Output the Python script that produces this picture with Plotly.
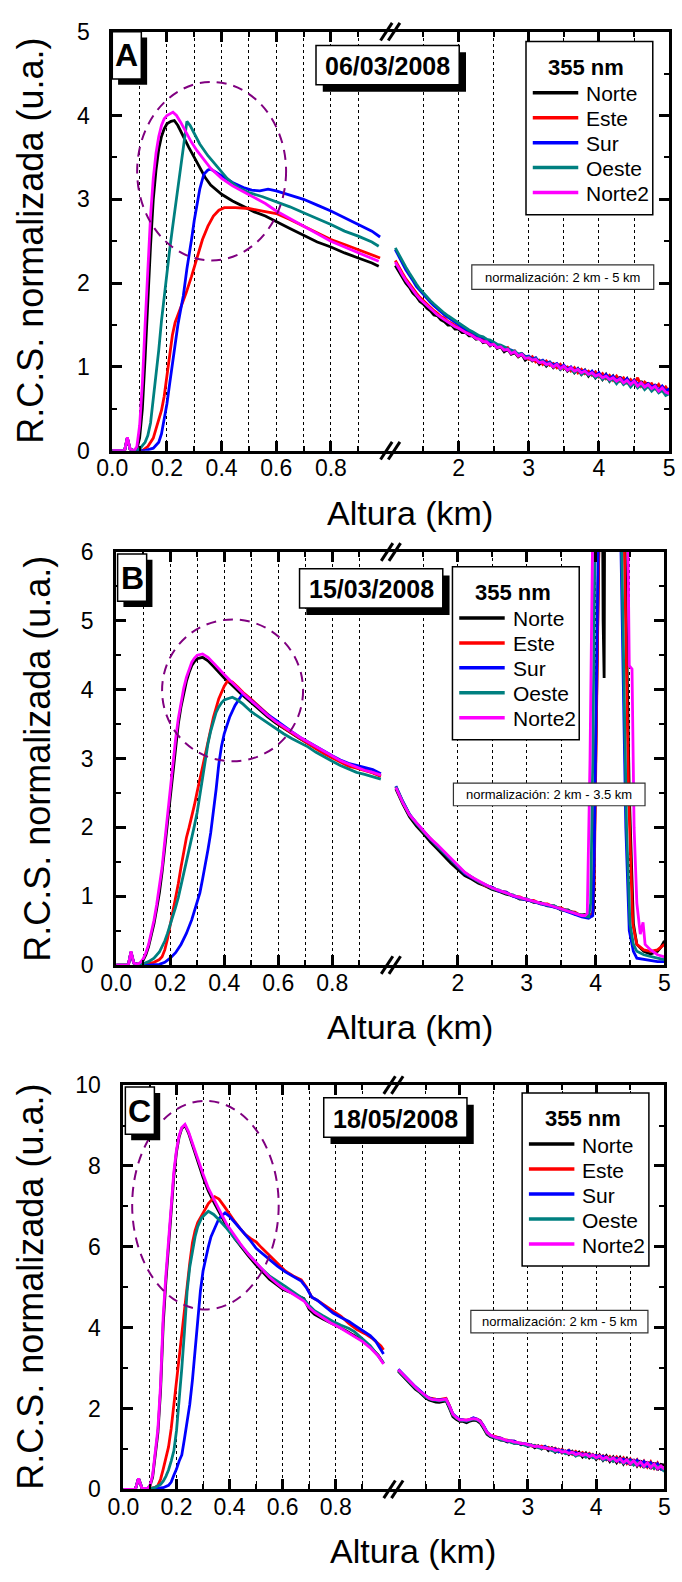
import plotly.graph_objects as go

W, H = 682, 1582
FONT = "Liberation Sans, Arial, Helvetica, sans-serif"

SERIES = ["Norte", "Este", "Sur", "Oeste", "Norte2"]
COLORS = ["#000000", "#ff0000", "#0000ff", "#008080", "#ff00ff"]

XL_TICKS = [0.0, 0.2, 0.4, 0.6, 0.8]
XL_TICKTEXT = ["0.0", "0.2", "0.4", "0.6", "0.8"]
XL_MINOR = [0.1, 0.3, 0.5, 0.7, 0.9]
XR_TICKS = [2, 3, 4, 5]
XR_TICKTEXT = ["2", "3", "4", "5"]
XR_MINOR = [1.5, 2.5, 3.5, 4.5]

# ------------------------------------------------------------------ Panel A (06/03/2008)
a_norte_x = [0, 0.045, 0.055, 0.065, 0.08, 0.09, 0.10, 0.11, 0.12, 0.13, 0.14, 0.15, 0.16, 0.17, 0.18, 0.19, 0.20, 0.215, 0.227, 0.24, 0.26, 0.28, 0.30, 0.32, 0.34, 0.36, 0.38, 0.40, 0.44, 0.48, 0.52, 0.56, 0.60, 0.65, 0.70, 0.75, 0.80, 0.85, 0.90, 0.95, 0.975]
a_norte_y = [0, 0, 0.15, 0.02, 0, 0.02, 0.15, 0.5, 1.1, 1.8, 2.45, 3.0, 3.35, 3.6, 3.75, 3.84, 3.9, 3.93, 3.94, 3.88, 3.74, 3.62, 3.5, 3.38, 3.26, 3.17, 3.11, 3.06, 2.98, 2.91, 2.85, 2.80, 2.73, 2.65, 2.57, 2.49, 2.43, 2.36, 2.30, 2.24, 2.20]
a_este_x = [0, 0.045, 0.055, 0.065, 0.08, 0.11, 0.13, 0.15, 0.16, 0.17, 0.18, 0.19, 0.20, 0.21, 0.22, 0.23, 0.25, 0.27, 0.29, 0.31, 0.33, 0.35, 0.37, 0.39, 0.41, 0.45, 0.50, 0.55, 0.60, 0.65, 0.70, 0.75, 0.80, 0.85, 0.90, 0.95, 0.98]
a_este_y = [0, 0, 0.15, 0.02, 0, 0, 0.05, 0.15, 0.26, 0.38, 0.48, 0.65, 0.9, 1.15, 1.38, 1.53, 1.7, 1.88, 2.08, 2.3, 2.52, 2.68, 2.8, 2.87, 2.9, 2.9, 2.89, 2.86, 2.83, 2.76, 2.68, 2.6, 2.52, 2.46, 2.4, 2.34, 2.3]
a_sur_x = [0, 0.045, 0.055, 0.065, 0.08, 0.12, 0.15, 0.17, 0.18, 0.19, 0.20, 0.21, 0.22, 0.23, 0.24, 0.25, 0.26, 0.273, 0.28, 0.29, 0.30, 0.31, 0.32, 0.335, 0.35, 0.36, 0.38, 0.40, 0.44, 0.48, 0.51, 0.54, 0.57, 0.60, 0.65, 0.70, 0.75, 0.80, 0.85, 0.90, 0.95, 0.98]
a_sur_y = [0, 0, 0.15, 0.02, 0, 0, 0.03, 0.1, 0.2, 0.36, 0.56, 0.8, 1.05, 1.3, 1.5, 1.68, 1.85, 2.17, 2.3, 2.52, 2.75, 2.95, 3.12, 3.3, 3.35, 3.36, 3.32, 3.27, 3.2, 3.14, 3.11, 3.1, 3.12, 3.1, 3.05, 3.0, 2.93, 2.86, 2.78, 2.70, 2.62, 2.55]
a_oeste_x = [0, 0.045, 0.055, 0.065, 0.08, 0.10, 0.12, 0.13, 0.14, 0.15, 0.16, 0.17, 0.18, 0.19, 0.20, 0.21, 0.22, 0.23, 0.24, 0.25, 0.26, 0.267, 0.273, 0.285, 0.30, 0.32, 0.35, 0.38, 0.42, 0.46, 0.50, 0.55, 0.60, 0.65, 0.70, 0.75, 0.80, 0.85, 0.90, 0.95, 0.975]
a_oeste_y = [0, 0, 0.15, 0.02, 0, 0.02, 0.1, 0.18, 0.33, 0.6, 0.88, 1.2, 1.55, 1.85, 2.1, 2.4, 2.65, 2.9, 3.13, 3.38, 3.62, 3.82, 3.93, 3.88, 3.78, 3.66, 3.52, 3.40, 3.25, 3.14, 3.08, 3.03, 2.97, 2.91, 2.84, 2.77, 2.70, 2.62, 2.56, 2.49, 2.44]
a_norte2_x = [0, 0.045, 0.055, 0.065, 0.08, 0.09, 0.10, 0.11, 0.12, 0.13, 0.14, 0.15, 0.16, 0.17, 0.18, 0.19, 0.20, 0.222, 0.235, 0.25, 0.27, 0.29, 0.31, 0.33, 0.36, 0.40, 0.44, 0.48, 0.52, 0.56, 0.60, 0.65, 0.70, 0.75, 0.80, 0.85, 0.90, 0.95, 0.975]
a_norte2_y = [0, 0, 0.16, 0.02, 0, 0.05, 0.3, 0.8, 1.5, 2.2, 2.8, 3.25, 3.55, 3.75, 3.88, 3.96, 4.0, 4.04, 4.0, 3.92, 3.8, 3.68, 3.58, 3.49, 3.37, 3.25, 3.16, 3.09, 3.02, 2.95, 2.86, 2.77, 2.68, 2.59, 2.50, 2.43, 2.36, 2.29, 2.26]

# upper segment (1 - 5 km), sampled every 0.05 km
a_xr = [1.10, 1.15, 1.20, 1.25, 1.30, 1.35, 1.40, 1.45, 1.50, 1.55, 1.60, 1.65, 1.70, 1.75, 1.80, 1.85, 1.90, 1.95,
        2.00, 2.05, 2.10, 2.15, 2.20, 2.25, 2.30, 2.35, 2.40, 2.45, 2.50, 2.55, 2.60, 2.65, 2.70, 2.75, 2.80, 2.85, 2.90, 2.95,
        3.00, 3.05, 3.10, 3.15, 3.20, 3.25, 3.30, 3.35, 3.40, 3.45, 3.50, 3.55, 3.60, 3.65, 3.70, 3.75, 3.80, 3.85, 3.90, 3.95,
        4.00, 4.05, 4.10, 4.15, 4.20, 4.25, 4.30, 4.35, 4.40, 4.45, 4.50, 4.55, 4.60, 4.65, 4.70, 4.75, 4.80, 4.85, 4.90, 4.95,
        5.00]
a_norte_r = [2.21, 2.14, 2.08, 2.00, 1.95, 1.88, 1.84, 1.78, 1.75, 1.70, 1.67, 1.62, 1.61, 1.56, 1.54, 1.50, 1.50, 1.45,
             1.45, 1.41, 1.41, 1.37, 1.37, 1.33, 1.34, 1.29, 1.30, 1.25, 1.28, 1.22, 1.24, 1.18, 1.21, 1.15, 1.17, 1.12, 1.15, 1.08,
             1.11, 1.07, 1.10, 1.03, 1.07, 1.01, 1.05, 0.99, 1.03, 0.97, 1.01, 0.95, 0.99, 0.93, 0.98, 0.91, 0.96, 0.89, 0.94, 0.87,
             0.92, 0.85, 0.91, 0.83, 0.89, 0.81, 0.88, 0.80, 0.86, 0.78, 0.84, 0.76, 0.83, 0.74, 0.81, 0.73, 0.79, 0.70, 0.77, 0.68,
             0.72]
a_este_r = [2.27, 2.19, 2.12, 2.05, 1.99, 1.93, 1.88, 1.83, 1.79, 1.74, 1.71, 1.67, 1.64, 1.60, 1.58, 1.54, 1.52, 1.49,
            1.47, 1.46, 1.42, 1.40, 1.39, 1.35, 1.35, 1.32, 1.30, 1.27, 1.29, 1.24, 1.25, 1.21, 1.23, 1.17, 1.19, 1.13, 1.16, 1.12,
            1.09, 1.12, 1.06, 1.08, 1.03, 1.07, 1.02, 1.04, 0.99, 1.03, 0.98, 1.00, 0.95, 0.99, 0.93, 0.97, 0.92, 0.95, 0.90, 0.94,
            0.88, 0.92, 0.86, 0.90, 0.84, 0.89, 0.83, 0.87, 0.81, 0.85, 0.80, 0.87, 0.77, 0.82, 0.78, 0.80, 0.74, 0.79, 0.72, 0.76,
            0.70]
a_sur_r = [2.40, 2.31, 2.24, 2.16, 2.10, 2.03, 1.96, 1.91, 1.86, 1.81, 1.77, 1.73, 1.69, 1.66, 1.62, 1.59, 1.56, 1.53,
           1.50, 1.48, 1.45, 1.43, 1.41, 1.38, 1.36, 1.35, 1.32, 1.30, 1.29, 1.26, 1.25, 1.23, 1.21, 1.20, 1.18, 1.15, 1.16, 1.12,
           1.13, 1.09, 1.11, 1.06, 1.08, 1.04, 1.06, 1.02, 1.04, 0.99, 1.02, 0.97, 1.00, 0.95, 0.98, 0.94, 0.96, 0.91, 0.95, 0.89,
           0.93, 0.87, 0.91, 0.86, 0.89, 0.84, 0.87, 0.82, 0.86, 0.80, 0.84, 0.79, 0.81, 0.77, 0.80, 0.76, 0.78, 0.72, 0.77, 0.71,
           0.74]
a_oeste_r = [2.42, 2.34, 2.26, 2.19, 2.12, 2.05, 1.99, 1.93, 1.88, 1.83, 1.79, 1.75, 1.71, 1.67, 1.64, 1.61, 1.58, 1.55,
             1.52, 1.50, 1.47, 1.44, 1.42, 1.40, 1.37, 1.36, 1.33, 1.32, 1.29, 1.27, 1.26, 1.24, 1.22, 1.19, 1.19, 1.15, 1.16, 1.11,
             1.12, 1.08, 1.10, 1.05, 1.07, 1.02, 1.05, 1.00, 1.03, 0.97, 1.00, 0.96, 0.98, 0.93, 0.97, 0.91, 0.94, 0.90, 0.92, 0.87,
             0.90, 0.85, 0.88, 0.83, 0.86, 0.80, 0.85, 0.79, 0.82, 0.76, 0.81, 0.75, 0.79, 0.73, 0.77, 0.71, 0.75, 0.69, 0.72, 0.66,
             0.68]
a_norte2_r = [2.25, 2.17, 2.10, 2.03, 1.97, 1.91, 1.86, 1.81, 1.77, 1.73, 1.69, 1.65, 1.62, 1.59, 1.56, 1.53, 1.50, 1.48,
              1.46, 1.43, 1.41, 1.39, 1.37, 1.34, 1.33, 1.30, 1.30, 1.26, 1.27, 1.23, 1.24, 1.20, 1.21, 1.16, 1.18, 1.13, 1.15, 1.10,
              1.11, 1.08, 1.09, 1.05, 1.06, 1.03, 1.04, 1.00, 1.03, 0.98, 1.01, 0.96, 0.99, 0.95, 0.97, 0.93, 0.95, 0.91, 0.93, 0.89,
              0.91, 0.87, 0.89, 0.85, 0.87, 0.83, 0.86, 0.81, 0.84, 0.79, 0.83, 0.77, 0.81, 0.76, 0.79, 0.74, 0.77, 0.71, 0.75, 0.70,
              0.68]

# ------------------------------------------------------------------ Panel B (15/03/2008)
b_norte_x = [0, 0.045, 0.055, 0.065, 0.08, 0.09, 0.10, 0.11, 0.12, 0.13, 0.14, 0.15, 0.16, 0.17, 0.18, 0.19, 0.20, 0.21, 0.22, 0.23, 0.24, 0.25, 0.26, 0.27, 0.28, 0.29, 0.30, 0.32, 0.34, 0.36, 0.38, 0.40, 0.42, 0.44, 0.46, 0.48, 0.50, 0.53, 0.56, 0.59, 0.62, 0.65, 0.68, 0.71, 0.74, 0.77, 0.80, 0.83, 0.86, 0.89, 0.92, 0.95, 0.98]
b_norte_y = [0, 0, 0.19, 0.03, 0.01, 0.03, 0.07, 0.15, 0.27, 0.42, 0.6, 0.82, 1.05, 1.35, 1.72, 2.1, 2.45, 2.85, 3.2, 3.5, 3.75, 3.95, 4.12, 4.25, 4.35, 4.41, 4.45, 4.47, 4.42, 4.34, 4.25, 4.17, 4.10, 4.02, 3.95, 3.88, 3.81, 3.71, 3.61, 3.52, 3.44, 3.36, 3.29, 3.22, 3.15, 3.08, 3.02, 2.96, 2.91, 2.87, 2.84, 2.80, 2.75]
b_este_x = [0, 0.045, 0.055, 0.065, 0.08, 0.10, 0.12, 0.14, 0.16, 0.17, 0.18, 0.19, 0.20, 0.21, 0.22, 0.23, 0.24, 0.25, 0.26, 0.27, 0.28, 0.29, 0.30, 0.32, 0.34, 0.36, 0.38, 0.40, 0.413, 0.43, 0.45, 0.47, 0.50, 0.53, 0.56, 0.59, 0.62, 0.65, 0.68, 0.71, 0.74, 0.77, 0.80, 0.83, 0.86, 0.89, 0.92, 0.95, 0.98]
b_este_y = [0, 0, 0.19, 0.03, 0.01, 0.01, 0.02, 0.04, 0.08, 0.12, 0.22, 0.38, 0.58, 0.78, 0.95, 1.18, 1.42, 1.65, 1.85, 2.0, 2.15, 2.33, 2.52, 2.88, 3.26, 3.6, 3.87, 4.05, 4.13, 4.11, 4.04, 3.96, 3.86, 3.75, 3.64, 3.54, 3.45, 3.37, 3.29, 3.22, 3.14, 3.07, 3.01, 2.94, 2.89, 2.86, 2.83, 2.79, 2.74]
b_sur_x = [0, 0.045, 0.055, 0.065, 0.08, 0.12, 0.16, 0.18, 0.20, 0.22, 0.24, 0.26, 0.28, 0.30, 0.31, 0.32, 0.33, 0.34, 0.35, 0.36, 0.37, 0.38, 0.39, 0.40, 0.42, 0.44, 0.46, 0.468, 0.48, 0.50, 0.53, 0.56, 0.59, 0.62, 0.65, 0.68, 0.71, 0.74, 0.77, 0.80, 0.83, 0.86, 0.89, 0.92, 0.95, 0.98]
b_sur_y = [0, 0, 0.19, 0.03, 0.01, 0.0, 0.01, 0.04, 0.1, 0.18, 0.3, 0.46, 0.66, 0.9, 1.05, 1.25, 1.45, 1.68, 1.92, 2.2, 2.55, 2.92, 3.18, 3.36, 3.6, 3.77, 3.9, 3.94, 3.91, 3.84, 3.74, 3.64, 3.56, 3.47, 3.39, 3.31, 3.24, 3.17, 3.1, 3.04, 2.98, 2.93, 2.9, 2.87, 2.84, 2.78]
b_oeste_x = [0, 0.045, 0.055, 0.065, 0.08, 0.10, 0.12, 0.14, 0.16, 0.18, 0.19, 0.20, 0.21, 0.22, 0.23, 0.24, 0.25, 0.26, 0.27, 0.28, 0.29, 0.30, 0.31, 0.32, 0.33, 0.34, 0.35, 0.36, 0.37, 0.38, 0.39, 0.40, 0.42, 0.43, 0.45, 0.47, 0.50, 0.53, 0.56, 0.59, 0.62, 0.65, 0.68, 0.71, 0.74, 0.77, 0.80, 0.83, 0.86, 0.89, 0.92, 0.95, 0.98]
b_oeste_y = [0, 0, 0.19, 0.03, 0.01, 0.02, 0.05, 0.1, 0.19, 0.35, 0.46, 0.58, 0.7, 0.84, 0.98, 1.15, 1.33, 1.5, 1.67, 1.85, 2.03, 2.22, 2.48, 2.75, 3.0, 3.22, 3.4, 3.55, 3.67, 3.75, 3.81, 3.85, 3.88, 3.89, 3.85, 3.79, 3.68, 3.60, 3.51, 3.43, 3.36, 3.29, 3.23, 3.17, 3.09, 3.02, 2.96, 2.90, 2.85, 2.80, 2.77, 2.74, 2.70]
b_norte2_x = b_norte_x
b_norte2_y = [0, 0, 0.2, 0.03, 0.01, 0.04, 0.09, 0.18, 0.3, 0.46, 0.65, 0.88, 1.12, 1.42, 1.8, 2.18, 2.55, 2.93, 3.28, 3.58, 3.82, 4.02, 4.18, 4.3, 4.4, 4.46, 4.5, 4.52, 4.47, 4.39, 4.3, 4.22, 4.14, 4.06, 3.98, 3.91, 3.84, 3.73, 3.63, 3.54, 3.46, 3.38, 3.31, 3.24, 3.17, 3.10, 3.04, 2.97, 2.92, 2.87, 2.83, 2.80, 2.76]

b_xr = [1.1, 1.2, 1.3, 1.4, 1.5, 1.6, 1.7, 1.8, 1.9, 2.0, 2.1, 2.2, 2.3, 2.4, 2.5, 2.6, 2.7, 2.8, 2.9, 3.0,
        3.1, 3.2, 3.3, 3.4, 3.5, 3.6, 3.7, 3.8]
b_norte_r = [2.56, 2.34, 2.15, 2.02, 1.91, 1.79, 1.69, 1.58, 1.48, 1.39, 1.30, 1.25, 1.19, 1.15, 1.10, 1.07, 1.03, 1.01, 0.96, 0.96, 0.91, 0.91, 0.86, 0.86, 0.80, 0.80, 0.74, 0.73]
b_este_r = [2.59, 2.37, 2.18, 2.06, 1.94, 1.84, 1.73, 1.64, 1.53, 1.43, 1.34, 1.28, 1.22, 1.15, 1.13, 1.07, 1.06, 1.00, 0.99, 0.94, 0.94, 0.89, 0.89, 0.84, 0.83, 0.78, 0.77, 0.71]
b_sur_r = [2.60, 2.38, 2.19, 2.06, 1.95, 1.83, 1.73, 1.63, 1.53, 1.42, 1.33, 1.27, 1.22, 1.16, 1.13, 1.07, 1.06, 1.00, 0.97, 0.95, 0.92, 0.89, 0.87, 0.84, 0.81, 0.77, 0.74, 0.70]
b_oeste_r = [2.59, 2.37, 2.18, 2.05, 1.94, 1.83, 1.73, 1.63, 1.53, 1.43, 1.34, 1.28, 1.21, 1.17, 1.11, 1.09, 1.04, 1.02, 0.97, 0.96, 0.92, 0.90, 0.87, 0.86, 0.81, 0.79, 0.75, 0.72]
b_norte2_r = [2.58, 2.36, 2.18, 2.07, 1.95, 1.84, 1.75, 1.65, 1.55, 1.44, 1.35, 1.28, 1.22, 1.17, 1.12, 1.09, 1.05, 1.01, 0.98, 0.95, 0.93, 0.90, 0.88, 0.85, 0.82, 0.79, 0.76, 0.72]
# cloud layer around 4 km (values above 6 go off the top of the frame)
b_norte_tx = [3.9, 3.95, 3.97, 4.01, 4.05, 4.07, 4.09, 4.11, 4.125, 4.14, 4.2, 4.3, 4.40, 4.43, 4.49, 4.55, 4.6, 4.7, 4.8, 4.9, 4.95, 5.0]
b_norte_ty = [0.74, 0.72, 0.8, 3.5, 6.0, 9.0, 9.0, 5.0, 4.17, 9.0, 9.0, 9.0, 9.0, 6.0, 2.5, 0.6, 0.3, 0.2, 0.16, 0.2, 0.26, 0.35]
b_este_tx = [3.9, 3.96, 3.98, 4.02, 4.05, 4.07, 4.38, 4.42, 4.48, 4.54, 4.6, 4.7, 4.8, 4.9, 5.0]
b_este_ty = [0.71, 0.75, 1.2, 4.0, 6.2, 9.0, 9.0, 6.0, 2.5, 0.6, 0.3, 0.22, 0.2, 0.22, 0.3]
b_sur_tx = [3.9, 3.96, 3.98, 4.01, 4.04, 4.06, 4.33, 4.37, 4.44, 4.49, 4.55, 4.6, 4.7, 4.8, 4.9, 5.0]
b_sur_ty = [0.68, 0.72, 1.5, 4.0, 6.2, 9.0, 9.0, 6.0, 2.0, 0.5, 0.2, 0.1, 0.08, 0.06, 0.05, 0.05]
b_oeste_tx = [3.9, 3.93, 3.96, 4.0, 4.02, 4.34, 4.38, 4.45, 4.5, 4.55, 4.6, 4.7, 4.8, 4.9, 5.0]
b_oeste_ty = [0.70, 0.9, 3.0, 6.0, 9.0, 9.0, 6.0, 2.0, 0.6, 0.3, 0.2, 0.15, 0.12, 0.1, 0.08]
b_norte2_tx = [3.85, 3.88, 3.92, 3.97, 3.99, 4.44, 4.47, 4.49, 4.53, 4.56, 4.6, 4.65, 4.69, 4.72, 4.8, 4.9, 5.0]
b_norte2_ty = [0.72, 0.75, 3.0, 6.0, 9.0, 9.0, 6.0, 4.35, 4.3, 2.0, 0.9, 0.45, 0.62, 0.3, 0.22, 0.15, 0.12]

# ------------------------------------------------------------------ Panel C (18/05/2008)
c_norte_x = [0, 0.045, 0.057, 0.07, 0.09, 0.10, 0.11, 0.12, 0.13, 0.14, 0.15, 0.16, 0.17, 0.18, 0.19, 0.20, 0.21, 0.22, 0.232, 0.245, 0.26, 0.28, 0.30, 0.32, 0.344, 0.37, 0.39, 0.42, 0.44, 0.47, 0.50, 0.53, 0.55, 0.58, 0.60, 0.63, 0.66, 0.68, 0.70, 0.72, 0.75, 0.78, 0.81, 0.84, 0.87, 0.90, 0.93, 0.96, 0.98]
c_norte_y = [0, 0, 0.27, 0.03, 0.02, 0.08, 0.3, 0.8, 1.4, 2.45, 4.1, 5.15, 6.0, 6.9, 7.75, 8.35, 8.72, 8.93, 9.0, 8.82, 8.5, 8.12, 7.72, 7.38, 7.06, 6.75, 6.5, 6.2, 6.02, 5.78, 5.55, 5.33, 5.2, 5.05, 4.95, 4.87, 4.78, 4.72, 4.45, 4.33, 4.22, 4.12, 4.03, 3.92, 3.8, 3.68, 3.52, 3.32, 3.12]
c_este_x = [0, 0.045, 0.057, 0.07, 0.10, 0.12, 0.13, 0.14, 0.15, 0.16, 0.17, 0.18, 0.19, 0.20, 0.21, 0.22, 0.23, 0.24, 0.25, 0.26, 0.27, 0.28, 0.30, 0.32, 0.344, 0.36, 0.38, 0.40, 0.42, 0.44, 0.46, 0.48, 0.50, 0.52, 0.55, 0.58, 0.61, 0.64, 0.67, 0.69, 0.71, 0.73, 0.76, 0.79, 0.82, 0.85, 0.88, 0.91, 0.94, 0.97, 0.98]
c_este_y = [0, 0, 0.27, 0.03, 0.02, 0.05, 0.1, 0.25, 0.5, 0.75, 1.05, 1.5, 2.1, 2.6, 3.2, 3.9, 4.45, 4.95, 5.6, 6.1, 6.4, 6.6, 6.85, 7.07, 7.24, 7.18, 7.0, 6.8, 6.62, 6.45, 6.3, 6.2, 6.12, 5.98, 5.78, 5.58, 5.4, 5.28, 5.18, 5.0, 4.75, 4.68, 4.55, 4.42, 4.28, 4.1, 3.95, 3.85, 3.72, 3.55, 3.45]
c_sur_x = [0, 0.045, 0.057, 0.07, 0.10, 0.13, 0.15, 0.17, 0.18, 0.19, 0.20, 0.21, 0.22, 0.23, 0.24, 0.25, 0.26, 0.27, 0.28, 0.29, 0.30, 0.31, 0.32, 0.33, 0.345, 0.36, 0.383, 0.40, 0.42, 0.44, 0.46, 0.48, 0.50, 0.52, 0.55, 0.58, 0.61, 0.64, 0.67, 0.69, 0.71, 0.73, 0.76, 0.79, 0.82, 0.85, 0.87, 0.90, 0.93, 0.95, 0.98]
c_sur_y = [0, 0, 0.27, 0.03, 0.01, 0.02, 0.04, 0.1, 0.18, 0.35, 0.5, 0.7, 0.85, 1.25, 1.65, 2.1, 2.7, 3.4, 4.2, 4.9, 5.4, 5.75, 6.0, 6.25, 6.5, 6.7, 6.84, 6.75, 6.6, 6.45, 6.3, 6.14, 5.96, 5.85, 5.7, 5.52, 5.38, 5.27, 5.15, 4.98, 4.75, 4.68, 4.52, 4.36, 4.25, 4.15, 4.06, 3.92, 3.8, 3.67, 3.35]
c_oeste_x = [0, 0.045, 0.057, 0.07, 0.10, 0.12, 0.14, 0.15, 0.16, 0.17, 0.18, 0.19, 0.20, 0.21, 0.22, 0.23, 0.24, 0.25, 0.26, 0.27, 0.28, 0.295, 0.32, 0.34, 0.36, 0.39, 0.42, 0.455, 0.49, 0.52, 0.55, 0.58, 0.61, 0.63, 0.66, 0.68, 0.70, 0.72, 0.75, 0.79, 0.82, 0.85, 0.87, 0.90, 0.93, 0.96, 0.98]
c_oeste_y = [0, 0, 0.27, 0.03, 0.02, 0.05, 0.12, 0.2, 0.32, 0.48, 0.7, 0.95, 1.45, 2.15, 3.0, 3.9, 4.9, 5.5, 5.9, 6.25, 6.5, 6.72, 6.88, 6.8, 6.67, 6.45, 6.2, 5.94, 5.68, 5.46, 5.28, 5.14, 5.02, 4.93, 4.8, 4.7, 4.55, 4.42, 4.3, 4.15, 4.06, 3.98, 3.9, 3.72, 3.55, 3.3, 3.12]
c_norte2_x = c_norte_x
c_norte2_y = [0, 0, 0.27, 0.03, 0.02, 0.1, 0.35, 0.9, 1.5, 2.6, 4.3, 5.3, 6.1, 7.0, 7.85, 8.4, 8.75, 8.95, 9.03, 8.85, 8.55, 8.2, 7.8, 7.45, 7.12, 6.8, 6.55, 6.25, 6.08, 5.82, 5.6, 5.38, 5.25, 5.08, 4.98, 4.87, 4.75, 4.66, 4.5, 4.38, 4.25, 4.12, 4.02, 3.9, 3.78, 3.66, 3.5, 3.3, 3.1]

c_xr = a_xr
c_norte_r = [2.92, 2.83, 2.75, 2.65, 2.57, 2.48, 2.42, 2.33, 2.26, 2.21, 2.18, 2.16, 2.15, 2.17, 2.19, 2.00, 1.80, 1.73,
             1.68, 1.68, 1.65, 1.69, 1.71, 1.70, 1.64, 1.51, 1.36, 1.30, 1.27, 1.26, 1.22, 1.21, 1.17, 1.19, 1.14, 1.15, 1.10, 1.12,
             1.06, 1.10, 1.03, 1.08, 1.00, 1.06, 0.96, 1.03, 0.92, 0.99, 0.90, 0.95, 0.86, 0.94, 0.84, 0.92, 0.80, 0.90, 0.78, 0.86,
             0.74, 0.85, 0.72, 0.83, 0.69, 0.80, 0.66, 0.79, 0.63, 0.76, 0.60, 0.74, 0.58, 0.71, 0.54, 0.68, 0.51, 0.66, 0.48, 0.62,
             0.60]
c_este_r = [2.95, 2.87, 2.79, 2.70, 2.60, 2.53, 2.46, 2.38, 2.30, 2.26, 2.24, 2.23, 2.22, 2.24, 2.25, 2.07, 1.85, 1.78,
            1.72, 1.72, 1.71, 1.73, 1.76, 1.74, 1.70, 1.56, 1.40, 1.34, 1.31, 1.29, 1.27, 1.23, 1.22, 1.19, 1.19, 1.15, 1.14, 1.12,
            1.12, 1.07, 1.09, 1.04, 1.07, 1.01, 1.04, 0.98, 1.02, 0.93, 0.99, 0.91, 0.97, 0.87, 0.94, 0.85, 0.91, 0.82, 0.89, 0.80,
            0.85, 0.76, 0.83, 0.73, 0.81, 0.70, 0.80, 0.68, 0.78, 0.64, 0.75, 0.62, 0.73, 0.58, 0.70, 0.55, 0.68, 0.52, 0.65, 0.50,
            0.52]
c_sur_r = [2.97, 2.88, 2.80, 2.71, 2.62, 2.54, 2.47, 2.39, 2.32, 2.26, 2.23, 2.22, 2.21, 2.22, 2.23, 2.06, 1.87, 1.79,
           1.73, 1.72, 1.69, 1.73, 1.77, 1.74, 1.69, 1.57, 1.42, 1.33, 1.29, 1.28, 1.27, 1.22, 1.19, 1.20, 1.19, 1.14, 1.12, 1.13,
           1.11, 1.09, 1.08, 1.06, 1.03, 1.06, 1.02, 0.97, 1.00, 0.93, 0.97, 0.92, 0.96, 0.88, 0.91, 0.86, 0.88, 0.83, 0.87, 0.79,
           0.84, 0.78, 0.82, 0.74, 0.78, 0.72, 0.77, 0.69, 0.75, 0.66, 0.73, 0.63, 0.72, 0.60, 0.69, 0.57, 0.66, 0.54, 0.63, 0.50,
           0.47]
c_oeste_r = [2.94, 2.85, 2.77, 2.68, 2.59, 2.51, 2.44, 2.36, 2.29, 2.24, 2.21, 2.20, 2.19, 2.20, 2.21, 2.03, 1.84, 1.76,
             1.71, 1.70, 1.69, 1.71, 1.74, 1.72, 1.67, 1.54, 1.39, 1.32, 1.29, 1.25, 1.23, 1.21, 1.21, 1.16, 1.14, 1.14, 1.14, 1.09,
             1.07, 1.09, 1.08, 1.03, 1.01, 1.04, 1.01, 0.96, 0.93, 0.97, 0.95, 0.88, 0.89, 0.90, 0.82, 0.86, 0.85, 0.79, 0.85, 0.79,
             0.77, 0.82, 0.72, 0.76, 0.78, 0.69, 0.73, 0.74, 0.64, 0.70, 0.70, 0.60, 0.66, 0.66, 0.56, 0.64, 0.60, 0.52, 0.57, 0.55,
             0.44]
c_norte2_r = [2.96, 2.87, 2.78, 2.70, 2.61, 2.53, 2.45, 2.38, 2.30, 2.25, 2.22, 2.22, 2.20, 2.21, 2.23, 2.06, 1.86, 1.78,
              1.72, 1.72, 1.71, 1.73, 1.75, 1.74, 1.68, 1.56, 1.41, 1.34, 1.31, 1.27, 1.26, 1.23, 1.20, 1.20, 1.17, 1.16, 1.13, 1.13,
              1.10, 1.09, 1.06, 1.07, 1.04, 1.03, 1.00, 1.01, 0.96, 0.98, 0.92, 0.94, 0.89, 0.92, 0.86, 0.89, 0.84, 0.87, 0.81, 0.85,
              0.78, 0.83, 0.75, 0.80, 0.72, 0.78, 0.69, 0.76, 0.66, 0.73, 0.63, 0.71, 0.60, 0.68, 0.57, 0.66, 0.54, 0.63, 0.51, 0.58,
              0.50]

# ------------------------------------------------------------------ panel descriptions
panels = [
    dict(letter="A", date="06/03/2008", norm="normalización: 2 km - 5 km",
         ymax=5, ymajor=[0, 1, 2, 3, 4, 5], ylabels=["0", "1", "2", "3", "4", "5"],
         yminor=[0.5, 1.5, 2.5, 3.5, 4.5],
         left=[(a_norte_x, a_norte_y), (a_este_x, a_este_y), (a_sur_x, a_sur_y),
               (a_oeste_x, a_oeste_y), (a_norte2_x, a_norte2_y)],
         right=[(a_xr, a_norte_r), (a_xr, a_este_r), (a_xr, a_sur_r),
                (a_xr, a_oeste_r), (a_xr, a_norte2_r)],
         ellipse=(0.091, 2.27, 0.636, 4.40),
         geo=dict(l=99.5, k=384.7, r=675, t=19, b=445),
         label_box=(99.5, 19), date_box=(310, 33), legend_box=(527, 29),
         norm_box=(471, 256, 659, 281), ytitle_x=15),
    dict(letter="B", date="15/03/2008", norm="normalización: 2 km - 3.5 km",
         ymax=6, ymajor=[0, 1, 2, 3, 4, 5, 6], ylabels=["0", "1", "2", "3", "4", "5", "6"],
         yminor=[0.5, 1.5, 2.5, 3.5, 4.5, 5.5],
         left=[(b_norte_x, b_norte_y), (b_este_x, b_este_y), (b_sur_x, b_sur_y),
               (b_oeste_x, b_oeste_y), (b_norte2_x, b_norte2_y)],
         right=[(b_xr + b_norte_tx, b_norte_r + b_norte_ty),
                (b_xr + b_este_tx, b_este_r + b_este_ty),
                (b_xr + b_sur_tx, b_sur_r + b_sur_ty),
                (b_xr + b_oeste_tx, b_oeste_r + b_oeste_ty),
                (b_xr + b_norte2_tx, b_norte2_r + b_norte2_ty)],
         ellipse=(0.17, 2.96, 0.692, 5.02),
         geo=dict(l=103.5, k=385.4, r=670, t=548, b=968),
         label_box=(105, 550), date_box=(293, 565), legend_box=(451, 563),
         norm_box=(452, 783, 650, 806), ytitle_x=22),
    dict(letter="C", date="18/05/2008", norm="normalización: 2 km - 5 km",
         ymax=10, ymajor=[0, 2, 4, 6, 8, 10], ylabels=["0", "2", "4", "6", "8", "10"],
         yminor=[1, 3, 5, 7, 9],
         left=[(c_norte_x, c_norte_y), (c_este_x, c_este_y), (c_sur_x, c_sur_y),
               (c_oeste_x, c_oeste_y), (c_norte2_x, c_norte2_y)],
         right=[(c_xr, c_norte_r), (c_xr, c_este_r), (c_xr, c_sur_r),
                (c_xr, c_oeste_r), (c_xr, c_norte2_r)],
         ellipse=(0.033, 4.45, 0.585, 9.61),
         geo=dict(l=111, k=388, r=670, t=1090, b=1501),
         label_box=(113, 1092), date_box=(318, 1103), legend_box=(523, 1098),
         norm_box=(470, 1319, 653, 1342), ytitle_x=15),
]

for p in panels:
    for xs, ys in p["left"] + p["right"]:
        assert len(xs) == len(ys), (p["letter"], len(xs), len(ys))


def px(x):
    return x / W


def py(y):
    return 1 - y / H


def akey(prefix, n):
    return f"{prefix}axis" if n == 1 else f"{prefix}axis{n}"


def aref(prefix, n):
    return prefix if n == 1 else f"{prefix}{n}"


fig = go.Figure()
layout = dict(width=W, height=H, margin=dict(l=0, r=0, t=0, b=0),
              paper_bgcolor="white", plot_bgcolor="white", showlegend=False,
              font=dict(family=FONT, color="black"))
shapes, annotations = [], []

common = dict(showline=True, linecolor="black", linewidth=3, ticks="inside",
              tickcolor="black", tickwidth=2.5, ticklen=10, zeroline=False,
              tickfont=dict(family=FONT, size=23, color="black"), fixedrange=True)
gridkw = dict(showgrid=True, gridcolor="black", gridwidth=1, griddash="dot")
LW = 2.8

for i, p in enumerate(panels):
    g = p["geo"]
    nl, nr = 2 * i + 1, 2 * i + 2
    ydom = [py(g["b"]), py(g["t"])]

    for k, name in enumerate(SERIES):
        xs, ys = p["left"][k]
        fig.add_trace(go.Scatter(x=xs, y=ys, mode="lines", name=name,
                                 line=dict(color=COLORS[k], width=LW),
                                 xaxis=aref("x", nl), yaxis=aref("y", nl)))
    for k, name in enumerate(SERIES):
        xs, ys = p["right"][k]
        fig.add_trace(go.Scatter(x=xs, y=ys, mode="lines", name=name,
                                 line=dict(color=COLORS[k], width=LW),
                                 xaxis=aref("x", nr), yaxis=aref("y", nr)))

    layout[akey("x", nl)] = dict(common, **gridkw, domain=[px(g["l"]), px(g["k"])], range=[0, 1.01],
                                 anchor=aref("y", nl), tickmode="array", tickvals=XL_TICKS,
                                 ticktext=XL_TICKTEXT, mirror="allticks", ticklabelstandoff=-5,
                                 minor=dict(tickmode="array", tickvals=XL_MINOR, ticks="inside",
                                            ticklen=5, tickwidth=2, tickcolor="black", **gridkw))
    layout[akey("x", nr)] = dict(common, **gridkw, domain=[px(g["k"]), px(g["r"])], range=[1, 5],
                                 anchor=aref("y", nr), tickmode="array", tickvals=XR_TICKS,
                                 ticktext=XR_TICKTEXT, mirror="allticks", ticklabelstandoff=-5,
                                 minor=dict(tickmode="array", tickvals=XR_MINOR, ticks="inside",
                                            ticklen=5, tickwidth=2, tickcolor="black", **gridkw))
    yminor = dict(tickmode="array", tickvals=p["yminor"], ticks="inside", ticklen=5,
                  tickwidth=2, tickcolor="black")
    layout[akey("y", nl)] = dict(common, domain=ydom, range=[0, p["ymax"]], anchor=aref("x", nl),
                                 tickmode="array", tickvals=p["ymajor"], ticktext=p["ylabels"],
                                 showgrid=False, side="left", ticklabelstandoff=15, minor=yminor)
    layout[akey("y", nr)] = dict(common, domain=ydom, range=[0, p["ymax"]], anchor=aref("x", nr),
                                 tickmode="array", tickvals=p["ymajor"], showticklabels=False,
                                 showgrid=False, side="right", minor=yminor)

    # dashed ellipse highlighting the overlap region
    ex0, ey0, ex1, ey1 = p["ellipse"]
    shapes.append(dict(type="circle", xref=aref("x", nl), yref=aref("y", nl),
                       x0=ex0, y0=ey0, x1=ex1, y1=ey1,
                       line=dict(color="#800080", width=2, dash="10px,7px")))

    # axis-break marks on bottom and top
    for yb in (g["b"], g["t"]):
        for dx in (-4, 4):
            cx = g["k"] + 2 + dx
            shapes.append(dict(type="line", xref="paper", yref="paper",
                               x0=px(cx - 6), y0=py(yb + 9), x1=px(cx + 6), y1=py(yb - 9),
                               line=dict(color="black", width=3)))

    # panel letter box with shadow
    lx, ly = p["label_box"]
    lw, lh, sh = 30, 48, 6
    shapes.append(dict(type="rect", xref="paper", yref="paper", x0=px(lx + sh), x1=px(lx + lw + sh),
                       y0=py(ly + lh + sh), y1=py(ly + sh), fillcolor="black", line=dict(width=0)))
    shapes.append(dict(type="rect", xref="paper", yref="paper", x0=px(lx), x1=px(lx + lw),
                       y0=py(ly + lh), y1=py(ly), fillcolor="white", line=dict(color="black", width=1.5)))
    annotations.append(dict(xref="paper", yref="paper", x=px(lx + lw / 2), y=py(ly + lh / 2),
                            text=f"<b>{p['letter']}</b>", showarrow=False, xanchor="center",
                            yanchor="middle", font=dict(family=FONT, size=32, color="black")))

    # date box with shadow
    dx0, dy0 = p["date_box"]
    dw, dh, dsh = 148, 40, 7
    shapes.append(dict(type="rect", xref="paper", yref="paper", x0=px(dx0 + dsh), x1=px(dx0 + dw + dsh),
                       y0=py(dy0 + dh + dsh), y1=py(dy0 + dsh), fillcolor="black", line=dict(width=0)))
    shapes.append(dict(type="rect", xref="paper", yref="paper", x0=px(dx0), x1=px(dx0 + dw),
                       y0=py(dy0 + dh), y1=py(dy0), fillcolor="white", line=dict(color="black", width=1.5)))
    annotations.append(dict(xref="paper", yref="paper", x=px(dx0 + dw / 2), y=py(dy0 + dh / 2 + 1),
                            text=f"<b>{p['date']}</b>", showarrow=False, xanchor="center",
                            yanchor="middle", font=dict(family=FONT, size=25, color="black")))

    # legend box
    gx, gy = p["legend_box"]
    gw, gh = 131, 176
    shapes.append(dict(type="rect", xref="paper", yref="paper", x0=px(gx), x1=px(gx + gw),
                       y0=py(gy + gh), y1=py(gy), fillcolor="white", line=dict(color="black", width=1.5)))
    annotations.append(dict(xref="paper", yref="paper", x=px(gx + gw / 2 - 3), y=py(gy + 26),
                            text="<b>355 nm</b>", showarrow=False, xanchor="center", yanchor="middle",
                            font=dict(family=FONT, size=22, color="black")))
    for k, name in enumerate(SERIES):
        ey = gy + 52 + 25.4 * k
        shapes.append(dict(type="line", xref="paper", yref="paper", x0=px(gx + 7), x1=px(gx + 54),
                           y0=py(ey), y1=py(ey), line=dict(color=COLORS[k], width=3.5)))
        annotations.append(dict(xref="paper", yref="paper", x=px(gx + 60), y=py(ey + 1),
                                text=name, showarrow=False, xanchor="left", yanchor="middle",
                                font=dict(family=FONT, size=21, color="black")))

    # normalisation box
    nx0, ny0, nx1, ny1 = p["norm_box"]
    shapes.append(dict(type="rect", xref="paper", yref="paper", x0=px(nx0), x1=px(nx1),
                       y0=py(ny1), y1=py(ny0), fillcolor="white", line=dict(color="#333333", width=1.2)))
    annotations.append(dict(xref="paper", yref="paper", x=px((nx0 + nx1) / 2), y=py((ny0 + ny1) / 2),
                            text=p["norm"], showarrow=False, xanchor="center", yanchor="middle",
                            font=dict(family=FONT, size=13, color="black")))

    # axis titles
    annotations.append(dict(xref="paper", yref="paper", x=px((g["l"] + g["r"]) / 2 + 20), y=py(g["b"] + 63),
                            text="Altura (km)", showarrow=False, xanchor="center", yanchor="middle",
                            font=dict(family=FONT, size=34, color="black")))
    annotations.append(dict(xref="paper", yref="paper", x=px(p["ytitle_x"]), y=py((g["t"] + g["b"]) / 2),
                            text="R.C.S. normalizada (u.a.)", showarrow=False, textangle=-90,
                            xanchor="center", yanchor="middle",
                            font=dict(family=FONT, size=36, color="black")))

layout["shapes"] = shapes
layout["annotations"] = annotations
fig.update_layout(**layout)
fig.write_html("out.html")
